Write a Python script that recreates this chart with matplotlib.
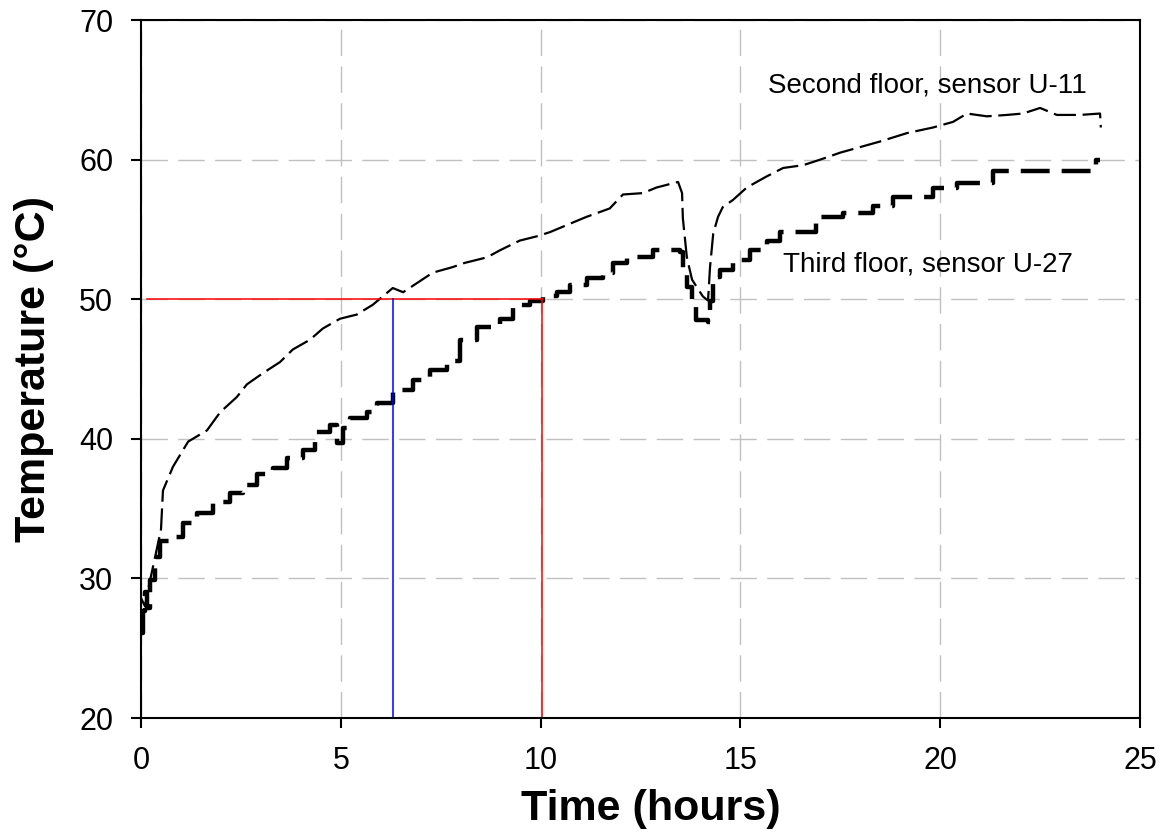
import numpy as np
import matplotlib
matplotlib.use('Agg')
import matplotlib.pyplot as plt

plt.rcParams['font.family'] = ['Liberation Sans', 'DejaVu Sans']

#%% second floor, sensor U-11 (hours, degC)
t_u11 = [0, 0.1, 0.2, 0.35, 0.5, 0.55, 0.8, 1.18, 1.65, 1.98, 2.4, 2.65, 3.05, 3.48,
         3.8, 4.23, 4.55, 4.98, 5.4, 5.8, 6.3, 6.56, 7.3, 7.8, 8.1, 8.66, 8.98, 9.48,
         9.9, 10.23, 10.73, 11.15, 11.73, 12.06, 12.56, 12.9, 13.44, 13.54, 13.56,
         13.66, 13.79, 14.06, 14.19, 14.24, 14.32, 14.44, 14.56, 14.81, 15.16, 15.66,
         16.07, 16.57, 17.0, 17.5, 18.0, 18.5, 19.17, 19.82, 20.32, 20.67, 21.17,
         21.67, 22.07, 22.5, 22.92, 23.5, 24.0, 24.02]
T_u11 = [28.6, 28.0, 29.5, 31.5, 33.5, 36.3, 38.0, 39.8, 40.6, 41.9, 43.0, 43.9, 44.7, 45.5,
         46.4, 47.1, 47.9, 48.6, 48.9, 49.6, 50.8, 50.5, 51.9, 52.3, 52.6, 53.0, 53.5, 54.2,
         54.5, 54.8, 55.4, 55.9, 56.5, 57.5, 57.6, 58.0, 58.4, 57.6, 55.8,
         53.0, 51.4, 50.2, 49.9, 52.3, 54.7, 55.9, 56.6, 57.1, 58.0, 58.8,
         59.4, 59.6, 60.0, 60.5, 60.9, 61.3, 61.9, 62.3, 62.7, 63.3, 63.1,
         63.2, 63.3, 63.7, 63.2, 63.2, 63.3, 62.3]

#%% third floor, sensor U-27
t_u27 = [0, 0.05, 0.1, 0.15, 0.22, 0.35, 0.47, 0.8, 1.05, 1.4, 1.8, 2.23, 2.55, 2.9,
         3.3, 3.65, 4.05, 4.35, 4.73, 4.9, 5.05, 5.23, 5.65, 5.9, 6.3, 6.8, 7.23,
         7.65, 7.98, 8.4, 8.98, 9.3, 9.73, 10.06, 10.4, 10.73, 11.15, 11.57, 11.81,
         12.16, 12.81, 13.49, 13.56, 13.66, 13.79, 13.9, 14.19, 14.24, 14.32, 14.49,
         14.81, 15.24, 15.66, 15.99, 16.9, 17.57, 18.32, 18.82, 19.82, 20.42, 21.32,
         22.0, 23.83, 23.9, 24.0]
T_u27 = [26.1, 27.7, 29.0, 27.9, 29.9, 31.5, 32.7, 33.0, 34.0, 34.7, 35.5, 36.1, 36.7, 37.5,
         37.9, 38.6, 39.2, 40.5, 41.0, 39.7, 40.8, 41.5, 41.9, 42.6, 43.5, 44.2, 44.9,
         45.6, 47.1, 48.0, 48.6, 49.6, 49.9, 50.2, 50.5, 51.0, 51.5, 51.9, 52.6,
         53.0, 53.5, 53.4, 52.1, 50.9, 49.5, 48.5, 48.4, 49.9, 51.6, 52.1,
         52.8, 53.5, 54.2, 54.8, 55.9, 56.2, 56.7, 57.3, 58.0, 58.3, 59.2,
         59.2, 59.4, 60.0, 60.0]

#%% 50 degC reference lines
T_ref = 50
t_u11_50 = 6.3
t_u27_50 = 10.04

fig = plt.figure(figsize=(11.62, 8.38), dpi=100)
ax = fig.add_axes([141/1162, 120/838, 999/1162, 698/838])

ax.plot(t_u11, T_u11, color='black', lw=1.6, dashes=(10, 3))
ax.plot(t_u27, T_u27, color='black', lw=3.2, dashes=(6.5, 2.7), drawstyle='steps-post')

ax.plot([0.14, t_u27_50], [T_ref, T_ref], color='red', lw=1.1)
ax.plot([t_u27_50, t_u27_50], [T_ref, 20], color='red', lw=1.1)
ax.plot([t_u11_50, t_u11_50], [T_ref, 20], color='blue', lw=1.1)

ax.text(19.67, 65.3, 'Second floor, sensor U-11', fontsize=20, ha='center', va='center')
ax.text(19.7, 52.45, 'Third floor, sensor U-27', fontsize=20, ha='center', va='center')

ax.set_xlim(0, 25)
ax.set_ylim(20, 70)
ax.set_xticks([0, 5, 10, 15, 20, 25])
ax.set_yticks([20, 30, 40, 50, 60, 70])
ax.grid(True, color='#c0c0c0', linestyle=(0, (19, 7.5)), linewidth=1.0)
ax.set_axisbelow(True)
ax.tick_params(direction='out', length=7, width=1.5, labelsize=22, pad=13)
for s in ax.spines.values():
    s.set_linewidth(1.5)

ax.set_xlabel('Time (hours)', fontsize=31, fontweight='bold')
ax.set_ylabel('Temperature (°C)', fontsize=31, fontweight='bold')
ax.xaxis.set_label_coords(0.51, -0.102)
ax.yaxis.set_label_coords(-0.087, 0.5)

plt.savefig('out.png', dpi=100)
